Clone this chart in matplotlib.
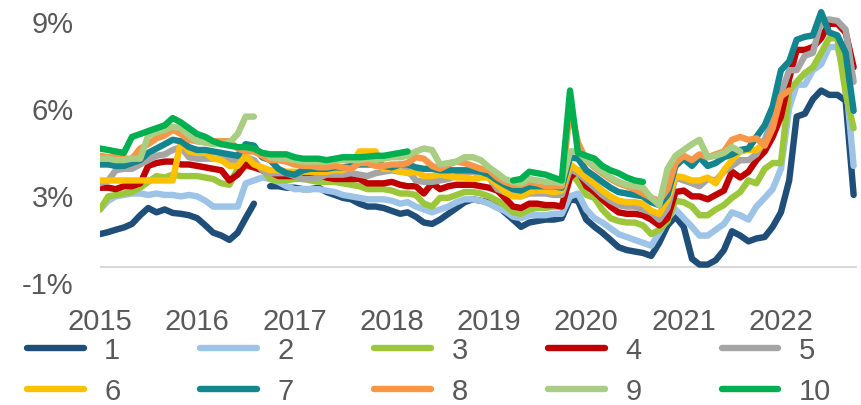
import numpy as np
import pandas as pd
import matplotlib
matplotlib.use("Agg")
import matplotlib.pyplot as plt
import matplotlib.dates as mdates

nan = np.nan
# monthly observations, Jan 2015 .. Oct 2022 (values in %)
months = pd.date_range("2015-01-01", periods=94, freq="MS")

s1 = [1.65, 1.72, 1.8, 1.88, 2.0, 2.3, 2.55, 2.4, 2.5, 2.38, 2.35, 2.3,
      2.2, 1.95, 1.7, 1.6, 1.45, 1.7, 2.2, 2.7, nan, 3.3, 3.3, 3.25,
      3.25, 3.2, 3.2, 3.25, 3.1, 3.0, 2.9, 2.85, 2.7, 2.6, 2.6, 2.55,
      2.45, 2.35, 2.4, 2.25, 2.05, 2.0, 2.15, 2.35, 2.55, 2.75, 2.85, 2.8,
      2.75, 2.6, 2.4, 2.15, 1.9, 2.05, 2.1, 2.15, 2.15, 2.2, 2.85, 2.8,
      2.15, 1.9, 1.7, 1.45, 1.2, 1.1, 1.05, 1.0, 0.9, 1.35, 1.95, 2.25,
      1.9, 0.8, 0.6, 0.6, 0.75, 1.1, 1.75, 1.6, 1.4, 1.5, 1.55, 1.9,
      2.4, 3.5, 5.7, 5.8, 6.3, 6.6, 6.45, 6.45, 6.25, 3.0]

s2 = [2.5, 2.8, 2.95, 3.0, 3.05, 3.05, 3.0, 3.05, 3.0, 3.0, 2.95, 3.0,
      2.95, 2.8, 2.6, 2.6, 2.6, 2.6, 3.4, 3.5, 3.6, 3.55, 3.45, 3.3,
      3.2, 3.2, 3.2, 3.2, 3.15, 3.1, 3.0, 2.95, 2.9, 2.85, 2.85, 2.85,
      2.8, 2.7, 2.75, 2.6, 2.5, 2.4, 2.5, 2.6, 2.75, 2.85, 2.85, 2.8,
      2.7, 2.55, 2.45, 2.25, 2.2, 2.3, 2.3, 2.3, 2.35, 2.35, 2.95, 3.05,
      2.5, 2.2, 2.05, 1.85, 1.65, 1.55, 1.45, 1.35, 1.25, 1.7, 2.2, 2.5,
      2.2, 1.9, 1.6, 1.6, 1.8, 2.0, 2.4, 2.3, 2.15, 2.6, 2.9, 3.2,
      3.9, 6.0, 6.8, 6.8, 7.3, 7.5, 8.1, 8.1, 7.0, 4.0]

s3 = [2.5, 2.95, 3.0, 3.05, 3.1, 3.25, 3.45, 3.65, 3.6, 3.7, 3.65, 3.65,
      3.65, 3.6, 3.55, 3.4, 3.35, 3.9, 4.0, 3.95, 3.9, 3.55, 3.5, 3.5,
      3.55, 3.55, 3.5, 3.45, 3.45, 3.45, 3.4, 3.35, 3.3, 3.2, 3.2, 3.2,
      3.15, 3.05, 3.05, 3.0, 2.7, 2.6, 2.9, 2.9, 3.0, 3.1, 3.1, 3.05,
      2.95, 2.8, 2.65, 2.4, 2.35, 2.5, 2.55, 2.55, 2.6, 2.6, 3.8, 3.45,
      3.0, 2.9, 2.5, 2.2, 2.1, 2.05, 2.05, 1.95, 1.65, 1.8, 2.1, 2.8,
      2.75, 2.6, 2.3, 2.3, 2.5, 2.65, 2.9, 3.1, 3.5, 3.4, 3.9, 4.1,
      4.1, 6.6, 6.9, 7.2, 7.4, 7.9, 8.4, 8.4, 6.5, 5.3]

s4 = [3.25, 3.25, 3.2, 3.3, 3.3, 3.4, 4.0, 4.1, 4.15, 4.15, 4.05, 4.05,
      4.0, 3.95, 3.9, 3.85, 3.5, 3.7, 4.05, 3.95, 3.85, 3.8, 3.65, 3.65,
      3.65, 3.7, 3.75, 3.7, 3.6, 3.55, 3.55, 3.55, 3.55, 3.4, 3.4, 3.4,
      3.45, 3.35, 3.3, 3.3, 3.05, 3.4, 3.2, 3.3, 3.35, 3.35, 3.35, 3.3,
      3.25, 3.15, 2.9, 2.6, 2.55, 2.7, 2.7, 2.65, 2.65, 2.6, 3.6, 3.85,
      3.3, 3.1, 2.85, 2.6, 2.4, 2.35, 2.35, 2.3, 2.15, 1.95, 2.2, 3.1,
      3.15, 2.95, 2.95, 2.85, 3.0, 3.15, 3.8, 3.6, 3.8, 4.2, 4.5, 5.0,
      5.7, 7.0, 8.0, 8.0, 8.1, 8.4, 8.9, 8.9, 8.6, 7.4]

s5 = [3.4, 3.5, 3.85, 3.9, 3.9, 4.05, 4.2, 4.35, 4.4, 4.55, 4.65, 4.3,
      4.25, 4.25, 4.25, 4.25, 4.2, 4.2, 4.3, 4.2, 3.85, 3.75, 3.75, 3.75,
      3.65, 3.55, 3.55, 3.6, 3.7, 3.7, 3.7, 3.75, 3.7, 3.65, 3.75, 3.8,
      3.85, 3.8, 3.85, 3.5, 3.45, 3.45, 3.5, 3.55, 3.65, 3.75, 3.8, 3.7,
      3.6, 3.2, 3.1, 3.0, 2.95, 3.05, 3.05, 3.05, 3.0, 3.0, 3.9, 3.75,
      3.5, 3.25, 3.0, 2.8, 2.65, 2.6, 2.6, 2.5, 2.4, 2.15, 2.55, 3.6,
      3.5, 3.4, 3.3, 3.55, 3.5, 3.8, 4.0, 4.2, 4.2, 4.4, 4.9, 5.6,
      6.5, 7.3, 7.3, 7.8, 7.9, 9.0, 9.05, 9.0, 8.7, 6.9]

s6 = [3.5, 3.5, 3.5, 3.5, 3.5, 3.5, 3.5, 3.5, 3.5, 3.5, 4.85, 4.5,
      4.45, 4.45, 4.25, 4.2, 4.0, 4.0, 4.35, 4.05, 3.95, 3.85, 3.85, 3.8,
      3.8, 3.8, 3.8, 3.8, 3.8, 3.85, 3.85, 4.0, 4.5, 4.5, 4.5, 3.9,
      3.9, 3.8, 3.75, 3.8, 3.65, 3.65, 3.7, 3.65, 3.6, 3.6, 3.55, 3.6,
      3.6, 3.35, 3.1, 2.95, 2.95, 3.1, 3.15, 3.15, 3.1, 3.15, 4.05, 3.85,
      3.6, 3.4, 3.15, 2.95, 2.8, 2.75, 2.75, 2.7, 2.45, 2.35, 2.85, 3.65,
      3.6, 3.5, 3.5, 3.6, 3.4, 3.85, 4.2, 4.5, 4.55, 4.55, 4.8, nan,
      nan, nan, nan, nan, nan, nan, nan, nan, nan, nan]

s7 = [4.05, 4.05, 4.0, 4.0, 4.1, 4.2, 4.45, 4.6, 4.75, 4.9, 4.85, 4.65,
      4.55, 4.55, 4.5, 4.45, 4.4, 4.35, 4.75, 4.7, 4.3, 4.2, 3.9, 3.75,
      3.7, 3.85, 3.9, 3.9, 3.9, 3.95, 3.95, 4.0, 4.05, 4.05, 4.05, 4.0,
      3.95, 4.05, 4.05, 3.95, 3.9, 3.9, 3.85, 3.85, 3.85, 3.85, 3.85, 3.8,
      3.7, 3.5, 3.35, 3.2, 3.15, 3.3, 3.3, 3.3, 3.3, 3.25, 4.3, 4.25,
      3.85, 3.65, 3.45, 3.25, 3.1, 3.05, 3.0, 2.95, 2.75, 2.65, 3.0, 4.0,
      4.25, 4.0, 4.3, 4.0, 4.1, 4.3, 4.4, 4.55, 4.6, 5.0, 5.4, 6.05,
      7.3, 7.6, 8.35, 8.45, 8.5, 9.3, 8.6, 8.5, 7.9, 5.9]

s8 = [4.35, 4.3, 4.3, 4.25, 4.25, 4.6, 4.75, 4.95, 5.05, 5.25, 5.1, 4.9,
      4.85, 4.85, 4.85, 4.85, 4.85, 4.6, 4.5, 4.5, 4.35, 4.2, 4.2, 4.15,
      4.05, 4.0, 4.0, 3.95, 3.95, 4.0, 3.95, 3.9, 4.1, 4.1, 4.0, 4.0,
      4.05, 4.05, 4.1, 4.3, 4.25, 4.0, 3.9, 4.05, 4.15, 4.1, 4.0, 3.9,
      3.85, 3.6, 3.45, 3.35, 3.35, 3.45, 3.4, 3.3, 3.3, 3.3, 6.0, 4.8,
      4.2, 3.95, 3.75, 3.55, 3.4, 3.3, 3.2, 3.05, 2.9, 2.8, 3.2, 4.1,
      4.35, 4.2, 4.4, 4.3, 4.4, 4.5, 4.9, 5.0, 4.9, 4.95, 4.7, 5.3,
      6.4, 6.6, nan, nan, nan, nan, nan, nan, nan, nan]

s9 = [4.25, 4.25, 4.2, 4.2, 4.25, 4.25, 5.05, 5.15, 5.25, 5.35, 5.3, 5.05,
      4.85, 4.8, 4.75, 4.75, 4.8, 5.1, 5.7, 5.7, nan, 4.3, 4.25, 4.25,
      4.2, 4.15, 4.15, 4.15, 4.15, 4.2, 4.2, 4.2, 4.2, 4.25, 4.2, 4.25,
      4.3, 4.3, 4.35, 4.5, 4.6, 4.55, 4.05, 4.1, 4.15, 4.3, 4.3, 4.2,
      3.95, 3.75, 3.55, 3.45, 3.4, 3.55, 3.5, 3.45, 3.45, 3.4, 4.5, 4.5,
      4.2, 4.0, 3.8, 3.6, 3.45, 3.35, 3.3, 3.25, 2.9, 2.65, 3.9, 4.35,
      4.55, 4.75, 4.9, 4.3, 4.35, 4.45, 4.65, 4.5, nan, nan, nan, nan,
      nan, nan, nan, nan, nan, nan, nan, nan, nan, nan]

s10 = [4.6, 4.55, 4.5, 4.45, 5.0, 5.1, 5.2, 5.3, 5.4, 5.65, 5.5, 5.3,
       5.1, 5.0, 4.85, 4.75, 4.7, 4.65, 4.65, 4.6, 4.45, 4.4, 4.4, 4.4,
       4.3, 4.25, 4.25, 4.25, 4.2, 4.25, 4.3, 4.3, 4.3, 4.32, 4.35, 4.35,
       4.4, 4.45, 4.5, nan, nan, nan, nan, nan, nan, nan, nan, nan,
       nan, nan, nan, 3.5, 3.55, 3.8, 3.75, 3.7, 3.6, 3.5, 6.6, 4.45,
       4.35, 4.25, 4.0, 3.85, 3.75, 3.6, 3.5, 3.45, nan, nan, nan, nan,
       nan, nan, nan, nan, nan, nan, nan, nan, nan, nan, nan, nan,
       nan, nan, nan, nan, nan, nan, nan, nan, nan, nan]

series = [s1, s2, s3, s4, s5, s6, s7, s8, s9, s10]
labels = ["1", "2", "3", "4", "5", "6", "7", "8", "9", "10"]
colors = ["#1F4E79", "#9DC3E6", "#9DC73A", "#C00000", "#A5A5A5",
          "#FFC000", "#12858F", "#F79646", "#A9CD82", "#00B050"]

ytick_vals = [0, 3, 6, 9]
ytick_text = ["-1%", "3%", "6%", "9%"]

for s in series:
    assert len(s) == len(months)

plt.rcParams["font.family"] = ["Liberation Sans", "DejaVu Sans"]
grey = "#595959"

fig = plt.figure(figsize=(8.62, 4.06), dpi=100)
ax = fig.add_axes([0.116, 0.303, 0.878, 0.686])

lines = []
for vals, lab, col in zip(series, labels, colors):
    ln, = ax.plot(months, vals, color=col, lw=4.6, label=lab,
                  solid_capstyle="round", solid_joinstyle="round")
    lines.append(ln)

# category axis line
ax.axhline(0.5, color="#D9D9D9", lw=1.5, zorder=0)

ax.set_ylim(0, 9.6)
ax.set_xlim(pd.Timestamp("2015-01-01"), pd.Timestamp("2022-10-13"))
ax.set_yticks(ytick_vals)
ax.set_yticklabels(ytick_text)
ax.xaxis.set_major_locator(mdates.YearLocator())
ax.xaxis.set_major_formatter(mdates.DateFormatter("%Y"))
for sp in ax.spines.values():
    sp.set_visible(False)
ax.tick_params(length=0, labelsize=21, colors=grey)
ax.tick_params(axis="x", pad=18)
ax.tick_params(axis="y", pad=19)

# legend filled row by row: 1-5 on top, 6-10 below
order = [0, 5, 1, 6, 2, 7, 3, 8, 4, 9]
fig.legend([lines[i] for i in order], [labels[i] for i in order],
           ncol=5, loc="upper left", bbox_to_anchor=(0.031, 0.17),
           frameon=False, fontsize=21, labelcolor=grey,
           handlelength=1.95, handletextpad=0.7, columnspacing=2.75,
           labelspacing=0.45, borderpad=0, borderaxespad=0)

fig.savefig("out.png", dpi=100)
